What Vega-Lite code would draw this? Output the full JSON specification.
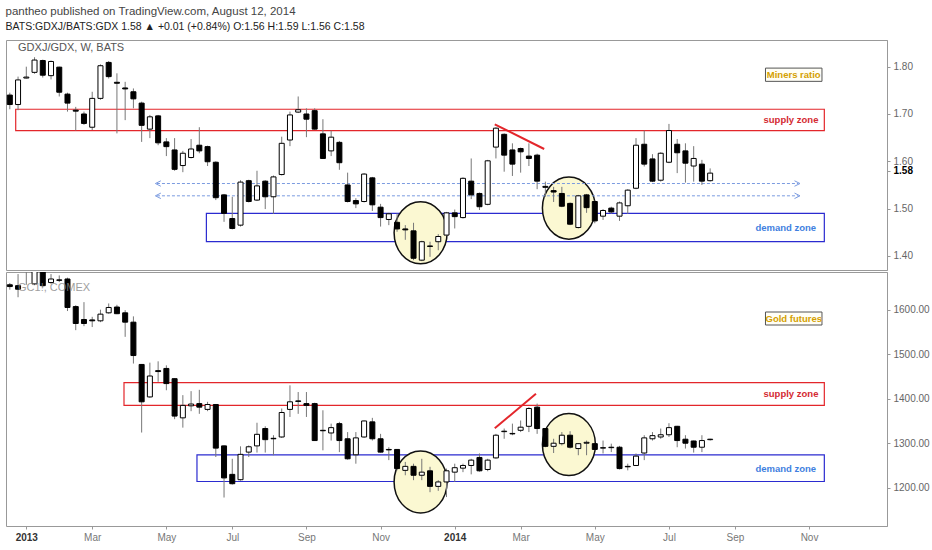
{
  "$schema": "https://vega.github.io/schema/vega-lite/v6.json",
  "background": "white",
  "padding": {"left": 5, "top": 5, "right": 0, "bottom": 0},
  "title": {
    "text": "pantheo published on TradingView.com, August 12, 2014",
    "subtitle": "BATS:GDXJ/BATS:GDX  1.58 ▲ +0.01 (+0.84%)  O:1.56  H:1.59  L:1.56  C:1.58",
    "anchor": "start",
    "font": "Liberation Sans",
    "fontSize": 11.5,
    "fontWeight": "normal",
    "color": "#444",
    "subtitleFont": "Liberation Sans",
    "subtitleFontSize": 10.5,
    "subtitleColor": "#222",
    "subtitlePadding": 5,
    "offset": 7
  },
  "datasets": {
    "ratio": [
      {"d": "2012-12-24", "o": 1.74, "h": 1.745, "l": 1.71, "c": 1.72},
      {"d": "2012-12-31", "o": 1.72, "h": 1.779, "l": 1.708, "c": 1.772},
      {"d": "2013-01-07", "o": 1.776, "h": 1.8, "l": 1.775, "c": 1.778},
      {"d": "2013-01-14", "o": 1.788, "h": 1.82, "l": 1.785, "c": 1.814},
      {"d": "2013-01-21", "o": 1.813, "h": 1.815, "l": 1.777, "c": 1.782},
      {"d": "2013-01-28", "o": 1.781, "h": 1.813, "l": 1.773, "c": 1.811},
      {"d": "2013-02-04", "o": 1.799, "h": 1.8, "l": 1.737, "c": 1.746},
      {"d": "2013-02-11", "o": 1.742, "h": 1.745, "l": 1.705, "c": 1.723},
      {"d": "2013-02-18", "o": 1.708, "h": 1.715, "l": 1.665, "c": 1.706},
      {"d": "2013-02-25", "o": 1.7, "h": 1.705, "l": 1.677, "c": 1.68},
      {"d": "2013-03-04", "o": 1.672, "h": 1.747, "l": 1.666, "c": 1.733},
      {"d": "2013-03-11", "o": 1.733, "h": 1.805, "l": 1.73, "c": 1.802},
      {"d": "2013-03-18", "o": 1.809, "h": 1.812, "l": 1.775, "c": 1.779},
      {"d": "2013-03-25", "o": 1.767, "h": 1.786, "l": 1.659, "c": 1.765},
      {"d": "2013-04-01", "o": 1.755, "h": 1.768, "l": 1.687, "c": 1.753},
      {"d": "2013-04-08", "o": 1.747, "h": 1.754, "l": 1.712, "c": 1.732},
      {"d": "2013-04-15", "o": 1.723, "h": 1.726, "l": 1.641, "c": 1.676},
      {"d": "2013-04-22", "o": 1.668, "h": 1.698, "l": 1.649, "c": 1.694},
      {"d": "2013-04-29", "o": 1.696, "h": 1.698, "l": 1.634, "c": 1.639},
      {"d": "2013-05-06", "o": 1.641, "h": 1.649, "l": 1.611, "c": 1.631},
      {"d": "2013-05-13", "o": 1.624, "h": 1.649, "l": 1.58, "c": 1.583},
      {"d": "2013-05-20", "o": 1.591, "h": 1.622, "l": 1.577, "c": 1.617},
      {"d": "2013-05-27", "o": 1.608, "h": 1.647, "l": 1.606, "c": 1.626},
      {"d": "2013-06-03", "o": 1.634, "h": 1.672, "l": 1.617, "c": 1.622},
      {"d": "2013-06-10", "o": 1.631, "h": 1.633, "l": 1.59, "c": 1.599},
      {"d": "2013-06-17", "o": 1.598, "h": 1.6, "l": 1.518, "c": 1.523},
      {"d": "2013-06-24", "o": 1.529, "h": 1.531, "l": 1.472, "c": 1.49},
      {"d": "2013-07-01", "o": 1.479, "h": 1.525, "l": 1.456, "c": 1.458},
      {"d": "2013-07-08", "o": 1.465, "h": 1.56, "l": 1.462, "c": 1.556},
      {"d": "2013-07-15", "o": 1.559, "h": 1.561, "l": 1.513, "c": 1.515},
      {"d": "2013-07-22", "o": 1.518, "h": 1.58, "l": 1.516, "c": 1.548},
      {"d": "2013-07-29", "o": 1.558, "h": 1.56, "l": 1.499, "c": 1.525},
      {"d": "2013-08-05", "o": 1.525, "h": 1.57, "l": 1.489, "c": 1.567},
      {"d": "2013-08-12", "o": 1.572, "h": 1.652, "l": 1.57, "c": 1.638},
      {"d": "2013-08-19", "o": 1.645, "h": 1.705, "l": 1.632, "c": 1.698},
      {"d": "2013-08-26", "o": 1.704, "h": 1.737, "l": 1.702, "c": 1.709},
      {"d": "2013-09-02", "o": 1.7, "h": 1.712, "l": 1.651, "c": 1.689},
      {"d": "2013-09-09", "o": 1.707, "h": 1.712, "l": 1.667, "c": 1.668},
      {"d": "2013-09-16", "o": 1.658, "h": 1.689, "l": 1.605, "c": 1.606},
      {"d": "2013-09-23", "o": 1.622, "h": 1.665, "l": 1.611, "c": 1.651},
      {"d": "2013-09-30", "o": 1.64, "h": 1.643, "l": 1.582, "c": 1.597},
      {"d": "2013-10-07", "o": 1.55, "h": 1.576, "l": 1.513, "c": 1.515},
      {"d": "2013-10-14", "o": 1.517, "h": 1.522, "l": 1.501, "c": 1.51},
      {"d": "2013-10-21", "o": 1.515, "h": 1.575, "l": 1.513, "c": 1.573},
      {"d": "2013-10-28", "o": 1.565, "h": 1.567, "l": 1.495, "c": 1.508},
      {"d": "2013-11-04", "o": 1.503, "h": 1.51, "l": 1.462, "c": 1.481},
      {"d": "2013-11-11", "o": 1.477, "h": 1.491, "l": 1.465, "c": 1.489},
      {"d": "2013-11-18", "o": 1.471, "h": 1.49, "l": 1.451, "c": 1.457},
      {"d": "2013-11-25", "o": 1.457, "h": 1.465, "l": 1.434, "c": 1.455},
      {"d": "2013-12-02", "o": 1.453, "h": 1.47, "l": 1.391, "c": 1.395},
      {"d": "2013-12-09", "o": 1.391, "h": 1.432, "l": 1.389, "c": 1.43},
      {"d": "2013-12-16", "o": 1.421, "h": 1.43, "l": 1.398, "c": 1.42},
      {"d": "2013-12-23", "o": 1.43, "h": 1.446, "l": 1.412, "c": 1.441},
      {"d": "2013-12-30", "o": 1.444, "h": 1.493, "l": 1.442, "c": 1.491},
      {"d": "2014-01-06", "o": 1.491, "h": 1.498, "l": 1.458, "c": 1.483},
      {"d": "2014-01-13", "o": 1.481, "h": 1.566, "l": 1.479, "c": 1.564},
      {"d": "2014-01-20", "o": 1.558, "h": 1.606, "l": 1.52, "c": 1.529},
      {"d": "2014-01-27", "o": 1.532, "h": 1.534, "l": 1.497, "c": 1.504},
      {"d": "2014-02-03", "o": 1.509, "h": 1.603, "l": 1.507, "c": 1.601},
      {"d": "2014-02-10", "o": 1.63, "h": 1.672, "l": 1.606, "c": 1.67},
      {"d": "2014-02-17", "o": 1.657, "h": 1.659, "l": 1.578, "c": 1.613},
      {"d": "2014-02-24", "o": 1.624, "h": 1.638, "l": 1.569, "c": 1.594},
      {"d": "2014-03-03", "o": 1.627, "h": 1.629, "l": 1.576, "c": 1.62},
      {"d": "2014-03-10", "o": 1.611, "h": 1.638, "l": 1.59, "c": 1.606},
      {"d": "2014-03-17", "o": 1.613, "h": 1.616, "l": 1.541, "c": 1.558},
      {"d": "2014-03-24", "o": 1.547, "h": 1.557, "l": 1.525, "c": 1.545},
      {"d": "2014-03-31", "o": 1.538, "h": 1.546, "l": 1.514, "c": 1.535},
      {"d": "2014-04-07", "o": 1.532, "h": 1.546, "l": 1.503, "c": 1.505},
      {"d": "2014-04-14", "o": 1.511, "h": 1.513, "l": 1.465, "c": 1.467},
      {"d": "2014-04-21", "o": 1.46, "h": 1.529, "l": 1.458, "c": 1.527},
      {"d": "2014-04-28", "o": 1.529, "h": 1.531, "l": 1.491, "c": 1.502},
      {"d": "2014-05-05", "o": 1.515, "h": 1.517, "l": 1.469, "c": 1.474},
      {"d": "2014-05-12", "o": 1.484, "h": 1.499, "l": 1.476, "c": 1.496},
      {"d": "2014-05-19", "o": 1.501, "h": 1.504, "l": 1.489, "c": 1.493},
      {"d": "2014-05-26", "o": 1.484, "h": 1.515, "l": 1.474, "c": 1.512},
      {"d": "2014-06-02", "o": 1.506, "h": 1.541, "l": 1.489, "c": 1.539},
      {"d": "2014-06-09", "o": 1.543, "h": 1.649, "l": 1.541, "c": 1.634},
      {"d": "2014-06-16", "o": 1.636, "h": 1.665, "l": 1.589, "c": 1.594},
      {"d": "2014-06-23", "o": 1.605, "h": 1.615, "l": 1.556, "c": 1.558},
      {"d": "2014-06-30", "o": 1.56, "h": 1.619, "l": 1.557, "c": 1.617},
      {"d": "2014-07-07", "o": 1.598, "h": 1.679, "l": 1.596, "c": 1.665},
      {"d": "2014-07-14", "o": 1.636, "h": 1.647, "l": 1.575, "c": 1.618},
      {"d": "2014-07-21", "o": 1.622, "h": 1.638, "l": 1.555, "c": 1.596},
      {"d": "2014-07-28", "o": 1.59, "h": 1.632, "l": 1.557, "c": 1.606},
      {"d": "2014-08-04", "o": 1.594, "h": 1.603, "l": 1.55, "c": 1.558},
      {"d": "2014-08-11", "o": 1.559, "h": 1.585, "l": 1.557, "c": 1.575}
    ],
    "gold": [
      {"d": "2012-12-24", "o": 1656, "h": 1660, "l": 1645, "c": 1652},
      {"d": "2012-12-31", "o": 1654, "h": 1680, "l": 1628, "c": 1646},
      {"d": "2013-01-07", "o": 1686, "h": 1698, "l": 1656, "c": 1692},
      {"d": "2013-01-14", "o": 1658, "h": 1695, "l": 1655, "c": 1690},
      {"d": "2013-01-21", "o": 1690, "h": 1695, "l": 1650, "c": 1654},
      {"d": "2013-01-28", "o": 1661, "h": 1680, "l": 1658, "c": 1669},
      {"d": "2013-02-04", "o": 1667, "h": 1677, "l": 1662, "c": 1666},
      {"d": "2013-02-11", "o": 1669, "h": 1672, "l": 1597, "c": 1605},
      {"d": "2013-02-18", "o": 1607, "h": 1610, "l": 1554, "c": 1569},
      {"d": "2013-02-25", "o": 1578, "h": 1617, "l": 1563, "c": 1569},
      {"d": "2013-03-04", "o": 1577, "h": 1584, "l": 1561, "c": 1575},
      {"d": "2013-03-11", "o": 1575, "h": 1600, "l": 1572, "c": 1590},
      {"d": "2013-03-18", "o": 1593, "h": 1614, "l": 1591, "c": 1605},
      {"d": "2013-03-25", "o": 1606, "h": 1611, "l": 1590, "c": 1591},
      {"d": "2013-04-01", "o": 1593, "h": 1599, "l": 1539, "c": 1572},
      {"d": "2013-04-08", "o": 1572, "h": 1585, "l": 1479, "c": 1497},
      {"d": "2013-04-15", "o": 1477, "h": 1478, "l": 1324, "c": 1393},
      {"d": "2013-04-22", "o": 1404, "h": 1481, "l": 1402, "c": 1451},
      {"d": "2013-04-29", "o": 1463, "h": 1484, "l": 1438, "c": 1461},
      {"d": "2013-05-06", "o": 1468, "h": 1475, "l": 1419, "c": 1434},
      {"d": "2013-05-13", "o": 1445, "h": 1446, "l": 1354, "c": 1361},
      {"d": "2013-05-20", "o": 1357, "h": 1408, "l": 1335, "c": 1385},
      {"d": "2013-05-27", "o": 1384, "h": 1417, "l": 1372, "c": 1388},
      {"d": "2013-06-03", "o": 1389, "h": 1420, "l": 1366, "c": 1381},
      {"d": "2013-06-10", "o": 1376, "h": 1393, "l": 1372, "c": 1387},
      {"d": "2013-06-17", "o": 1387, "h": 1388, "l": 1269, "c": 1289},
      {"d": "2013-06-24", "o": 1294, "h": 1295, "l": 1178, "c": 1222},
      {"d": "2013-07-01", "o": 1230, "h": 1265, "l": 1207, "c": 1209},
      {"d": "2013-07-08", "o": 1218, "h": 1293, "l": 1216, "c": 1275},
      {"d": "2013-07-15", "o": 1280, "h": 1295, "l": 1269, "c": 1292},
      {"d": "2013-07-22", "o": 1294, "h": 1346, "l": 1279, "c": 1320},
      {"d": "2013-07-29", "o": 1333, "h": 1338, "l": 1279, "c": 1308},
      {"d": "2013-08-05", "o": 1311, "h": 1318, "l": 1273, "c": 1310},
      {"d": "2013-08-12", "o": 1314, "h": 1378, "l": 1312, "c": 1369},
      {"d": "2013-08-19", "o": 1376, "h": 1430, "l": 1359, "c": 1393},
      {"d": "2013-08-26", "o": 1395, "h": 1415, "l": 1366, "c": 1394},
      {"d": "2013-09-02", "o": 1389, "h": 1415, "l": 1359, "c": 1385},
      {"d": "2013-09-09", "o": 1389, "h": 1391, "l": 1305, "c": 1306},
      {"d": "2013-09-16", "o": 1329, "h": 1374, "l": 1284, "c": 1328},
      {"d": "2013-09-23", "o": 1323, "h": 1344, "l": 1306, "c": 1335},
      {"d": "2013-09-30", "o": 1344, "h": 1348, "l": 1280, "c": 1306},
      {"d": "2013-10-07", "o": 1310, "h": 1325, "l": 1263, "c": 1265},
      {"d": "2013-10-14", "o": 1274, "h": 1325, "l": 1254, "c": 1312},
      {"d": "2013-10-21", "o": 1314, "h": 1351, "l": 1312, "c": 1350},
      {"d": "2013-10-28", "o": 1348, "h": 1357, "l": 1306, "c": 1310},
      {"d": "2013-11-04", "o": 1310, "h": 1321, "l": 1279, "c": 1280},
      {"d": "2013-11-11", "o": 1286, "h": 1291, "l": 1262, "c": 1285},
      {"d": "2013-11-18", "o": 1286, "h": 1287, "l": 1239, "c": 1243},
      {"d": "2013-11-25", "o": 1239, "h": 1258, "l": 1228, "c": 1248},
      {"d": "2013-12-02", "o": 1248, "h": 1254, "l": 1217, "c": 1228},
      {"d": "2013-12-09", "o": 1228, "h": 1265, "l": 1217, "c": 1235},
      {"d": "2013-12-16", "o": 1238, "h": 1247, "l": 1190, "c": 1203},
      {"d": "2013-12-23", "o": 1203, "h": 1217, "l": 1193, "c": 1213},
      {"d": "2013-12-30", "o": 1213, "h": 1243, "l": 1179, "c": 1238},
      {"d": "2014-01-06", "o": 1235, "h": 1254, "l": 1213, "c": 1245},
      {"d": "2014-01-13", "o": 1244, "h": 1254, "l": 1235, "c": 1250},
      {"d": "2014-01-20", "o": 1250, "h": 1265, "l": 1230, "c": 1262},
      {"d": "2014-01-27", "o": 1268, "h": 1277, "l": 1236, "c": 1238},
      {"d": "2014-02-03", "o": 1241, "h": 1265, "l": 1237, "c": 1262},
      {"d": "2014-02-10", "o": 1267, "h": 1321, "l": 1265, "c": 1318},
      {"d": "2014-02-17", "o": 1326, "h": 1333, "l": 1310, "c": 1327},
      {"d": "2014-02-24", "o": 1321, "h": 1344, "l": 1318, "c": 1322},
      {"d": "2014-03-03", "o": 1329, "h": 1351, "l": 1325, "c": 1336},
      {"d": "2014-03-10", "o": 1338, "h": 1381, "l": 1325, "c": 1378},
      {"d": "2014-03-17", "o": 1381, "h": 1389, "l": 1321, "c": 1333},
      {"d": "2014-03-24", "o": 1333, "h": 1334, "l": 1291, "c": 1293},
      {"d": "2014-03-31", "o": 1293, "h": 1310, "l": 1278, "c": 1300},
      {"d": "2014-04-07", "o": 1299, "h": 1325, "l": 1295, "c": 1318},
      {"d": "2014-04-14", "o": 1318, "h": 1327, "l": 1288, "c": 1291},
      {"d": "2014-04-21", "o": 1288, "h": 1300, "l": 1273, "c": 1299},
      {"d": "2014-04-28", "o": 1300, "h": 1306, "l": 1273, "c": 1302},
      {"d": "2014-05-05", "o": 1299, "h": 1300, "l": 1284, "c": 1286},
      {"d": "2014-05-12", "o": 1289, "h": 1306, "l": 1277, "c": 1290},
      {"d": "2014-05-19", "o": 1290, "h": 1299, "l": 1280, "c": 1291},
      {"d": "2014-05-26", "o": 1291, "h": 1294, "l": 1241, "c": 1243},
      {"d": "2014-06-02", "o": 1248, "h": 1254, "l": 1239, "c": 1247},
      {"d": "2014-06-09", "o": 1250, "h": 1277, "l": 1249, "c": 1271},
      {"d": "2014-06-16", "o": 1278, "h": 1318, "l": 1262, "c": 1312},
      {"d": "2014-06-23", "o": 1310, "h": 1325, "l": 1306, "c": 1317},
      {"d": "2014-06-30", "o": 1314, "h": 1333, "l": 1310, "c": 1319},
      {"d": "2014-07-07", "o": 1319, "h": 1345, "l": 1314, "c": 1335},
      {"d": "2014-07-14", "o": 1338, "h": 1339, "l": 1291, "c": 1306},
      {"d": "2014-07-21", "o": 1309, "h": 1318, "l": 1288, "c": 1300},
      {"d": "2014-07-28", "o": 1305, "h": 1306, "l": 1279, "c": 1291},
      {"d": "2014-08-04", "o": 1291, "h": 1318, "l": 1280, "c": 1306},
      {"d": "2014-08-11", "o": 1308, "h": 1310, "l": 1306, "c": 1309}
    ]
  },
  "vconcat": [
    {
      "width": 881,
      "height": 230,
      "layer": [
        {
          "data": {"values": [
            {"kind": "supply", "d": "2012-12-29", "d2": "2014-11-16", "v": 1.665, "v2": 1.71},
            {"kind": "demand", "d": "2013-06-09", "d2": "2014-11-16", "v": 1.43, "v2": 1.49}
          ]},
          "mark": {"type": "rect", "fill": "transparent", "strokeWidth": 1.2, "clip": true},
          "encoding": {
            "x": {"field": "d", "type": "temporal", "scale": {"type": "utc", "domain": [{"year": 2012, "month": 12, "date": 25, "utc": true}, {"year": 2015, "month": 1, "date": 4, "utc": true}]}, "axis": null},
            "x2": {"field": "d2"},
            "y": {"field": "v", "type": "quantitative", "scale": {"domain": [1.3702, 1.8564], "zero": false, "nice": false}, "axis": {"orient": "right", "values": [1.4, 1.5, 1.58, 1.6, 1.7, 1.8], "format": ".2f", "grid": false, "title": null, "labelOverlap": false, "labelFontWeight": {"expr": "datum.value == 1.58 ? 'bold' : 'normal'"}, "labelColor": {"expr": "datum.value == 1.58 ? '#000' : '#666'"}}},
            "y2": {"field": "v2"},
            "stroke": {"field": "kind", "type": "nominal", "scale": {"domain": ["supply", "demand"], "range": ["#e3262b", "#2b2bd0"]}, "legend": null}
          }
        },
        {
          "data": {"values": [
            {"d": "2013-12-08", "v": 1.449},
            {"d": "2014-04-13", "v": 1.501}
          ]},
          "mark": {"type": "point", "shape": "M0,-1.17A1,1.17 0 1,1 0,1.17A1,1.17 0 1,1 0,-1.17Z", "size": 2809, "filled": true, "fill": "#fbf8d2", "stroke": "#111", "strokeWidth": 1.5, "opacity": 1},
          "encoding": {
            "x": {"field": "d", "type": "temporal"},
            "y": {"field": "v", "type": "quantitative"}
          }
        },
        {
          "data": {"values": [
            {"d": "2013-04-28", "d2": "2014-10-25", "v": 1.553},
            {"d": "2013-04-28", "d2": "2014-10-25", "v": 1.527}
          ]},
          "mark": {"type": "rule", "color": "#7b9be0", "strokeDash": [3, 2], "strokeWidth": 1},
          "encoding": {
            "x": {"field": "d", "type": "temporal"},
            "x2": {"field": "d2"},
            "y": {"field": "v", "type": "quantitative"}
          }
        },
        {
          "data": {"values": [
            {"d": "2013-04-29", "v": 1.553, "end": "left"},
            {"d": "2013-04-29", "v": 1.527, "end": "left"},
            {"d": "2014-10-24", "v": 1.553, "end": "right"},
            {"d": "2014-10-24", "v": 1.527, "end": "right"}
          ]},
          "mark": {"type": "point", "filled": false, "color": "#7b9be0", "size": 30, "strokeWidth": 1, "opacity": 1},
          "encoding": {
            "x": {"field": "d", "type": "temporal"},
            "y": {"field": "v", "type": "quantitative"},
            "shape": {"field": "end", "type": "nominal", "scale": {"domain": ["left", "right"], "range": ["M1,-1L-1,0L1,1", "M-1,-1L1,0L-1,1"]}, "legend": null}
          }
        },
        {
          "data": {"name": "ratio"},
          "mark": {"type": "rule", "color": "#777", "strokeWidth": 1, "clip": true},
          "encoding": {
            "x": {"field": "d", "type": "temporal"},
            "y": {"field": "l", "type": "quantitative"},
            "y2": {"field": "h"}
          }
        },
        {
          "data": {"name": "ratio"},
          "mark": {"type": "bar", "width": 5, "stroke": "#000", "strokeWidth": 1, "clip": true},
          "encoding": {
            "x": {"field": "d", "type": "temporal"},
            "y": {"field": "o", "type": "quantitative"},
            "y2": {"field": "c"},
            "fill": {"condition": {"test": "datum.c >= datum.o", "value": "#ffffff"}, "value": "#000000"}
          }
        },
        {
          "data": {"values": [
            {"d": "2014-02-09", "v": 1.678},
            {"d": "2014-03-23", "v": 1.626}
          ]},
          "mark": {"type": "line", "color": "#e3262b", "strokeWidth": 2},
          "encoding": {
            "x": {"field": "d", "type": "temporal"},
            "y": {"field": "v", "type": "quantitative"}
          }
        },
        {
          "data": {"values": [
            {"kind": "supply", "d": "2014-11-11", "v": 1.687, "label": "supply zone"},
            {"kind": "demand", "d": "2014-11-09", "v": 1.458, "label": "demand zone"}
          ]},
          "mark": {"type": "text", "align": "right", "baseline": "middle", "font": "Liberation Sans", "fontSize": 9.5, "fontWeight": "bold"},
          "encoding": {
            "x": {"field": "d", "type": "temporal"},
            "y": {"field": "v", "type": "quantitative"},
            "text": {"field": "label"},
            "color": {"field": "kind", "type": "nominal", "scale": {"domain": ["supply", "demand"], "range": ["#d42a32", "#3f7fe0"]}, "legend": null}
          }
        },
        {
          "data": {"values": [{"d": "2014-09-27", "d2": "2014-11-14", "v": 1.769, "v2": 1.797}]},
          "mark": {"type": "rect", "fill": "#fffef6", "stroke": "#555", "strokeWidth": 1},
          "encoding": {
            "x": {"field": "d", "type": "temporal"},
            "x2": {"field": "d2"},
            "y": {"field": "v", "type": "quantitative"},
            "y2": {"field": "v2"}
          }
        },
        {
          "data": {"values": [{"d": "2014-10-21", "v": 1.783, "label": "Miners ratio"}]},
          "mark": {"type": "text", "align": "center", "baseline": "middle", "font": "Liberation Sans", "fontSize": 9.5, "fontWeight": "bold", "color": "#d4a000"},
          "encoding": {
            "x": {"field": "d", "type": "temporal"},
            "y": {"field": "v", "type": "quantitative"},
            "text": {"field": "label"}
          }
        },
        {
          "data": {"values": [{"d": "2012-12-31", "v": 1.8395, "label": "GDXJ/GDX, W, BATS"}]},
          "mark": {"type": "text", "align": "left", "baseline": "middle", "font": "Liberation Sans", "fontSize": 11, "color": "#555"},
          "encoding": {
            "x": {"field": "d", "type": "temporal"},
            "y": {"field": "v", "type": "quantitative"},
            "text": {"field": "label"}
          }
        }
      ]
    },
    {
      "width": 881,
      "height": 254,
      "layer": [
        {
          "data": {"values": [
            {"kind": "supply", "d": "2013-03-31", "d2": "2014-11-16", "v": 1385, "v2": 1436},
            {"kind": "demand", "d": "2013-06-01", "d2": "2014-11-16", "v": 1214, "v2": 1274}
          ]},
          "mark": {"type": "rect", "fill": "transparent", "strokeWidth": 1.2, "clip": true},
          "encoding": {
            "x": {"field": "d", "type": "temporal", "scale": {"type": "utc", "domain": [{"year": 2012, "month": 12, "date": 25, "utc": true}, {"year": 2015, "month": 1, "date": 4, "utc": true}]},
              "axis": {
                "title": null, "grid": false, "domain": false,
                "values": [
                  {"year": 2013, "month": 1, "date": 7, "utc": true},
                  {"year": 2013, "month": 3, "date": 4, "utc": true},
                  {"year": 2013, "month": 5, "date": 6, "utc": true},
                  {"year": 2013, "month": 7, "date": 1, "utc": true},
                  {"year": 2013, "month": 9, "date": 2, "utc": true},
                  {"year": 2013, "month": 11, "date": 4, "utc": true},
                  {"year": 2014, "month": 1, "date": 6, "utc": true},
                  {"year": 2014, "month": 3, "date": 3, "utc": true},
                  {"year": 2014, "month": 5, "date": 5, "utc": true},
                  {"year": 2014, "month": 7, "date": 7, "utc": true},
                  {"year": 2014, "month": 9, "date": 1, "utc": true},
                  {"year": 2014, "month": 11, "date": 3, "utc": true}
                ],
                "labelExpr": "utcmonth(datum.value) == 0 ? utcFormat(datum.value, '%Y') : utcFormat(datum.value, '%b')",
                "labelFontWeight": {"expr": "utcmonth(datum.value) == 0 ? 'bold' : 'normal'"},
                "labelColor": {"expr": "utcmonth(datum.value) == 0 ? '#333' : '#777'"},
                "labelFlush": false
              }},
            "x2": {"field": "d2"},
            "y": {"field": "v", "type": "quantitative", "scale": {"domain": [1114, 1684.7], "zero": false, "nice": false}, "axis": {"orient": "right", "values": [1200, 1300, 1400, 1500, 1600], "format": ".2f", "grid": false, "title": null, "labelColor": "#666"}},
            "y2": {"field": "v2"},
            "stroke": {"field": "kind", "type": "nominal", "scale": {"domain": ["supply", "demand"], "range": ["#e3262b", "#2b2bd0"]}, "legend": null}
          }
        },
        {
          "data": {"values": [
            {"d": "2013-12-08", "v": 1213},
            {"d": "2014-04-13", "v": 1297}
          ]},
          "mark": {"type": "point", "shape": "M0,-1.17A1,1.17 0 1,1 0,1.17A1,1.17 0 1,1 0,-1.17Z", "size": 2809, "filled": true, "fill": "#fbf8d2", "stroke": "#111", "strokeWidth": 1.5, "opacity": 1},
          "encoding": {
            "x": {"field": "d", "type": "temporal"},
            "y": {"field": "v", "type": "quantitative"}
          }
        },
        {
          "data": {"name": "gold"},
          "mark": {"type": "rule", "color": "#777", "strokeWidth": 1, "clip": true},
          "encoding": {
            "x": {"field": "d", "type": "temporal"},
            "y": {"field": "l", "type": "quantitative"},
            "y2": {"field": "h"}
          }
        },
        {
          "data": {"name": "gold"},
          "mark": {"type": "bar", "width": 5, "stroke": "#000", "strokeWidth": 1, "clip": true},
          "encoding": {
            "x": {"field": "d", "type": "temporal"},
            "y": {"field": "o", "type": "quantitative"},
            "y2": {"field": "c"},
            "fill": {"condition": {"test": "datum.c >= datum.o", "value": "#ffffff"}, "value": "#000000"}
          }
        },
        {
          "data": {"values": [
            {"d": "2014-02-09", "v": 1333.5},
            {"d": "2014-03-16", "v": 1411}
          ]},
          "mark": {"type": "line", "color": "#e3262b", "strokeWidth": 2},
          "encoding": {
            "x": {"field": "d", "type": "temporal"},
            "y": {"field": "v", "type": "quantitative"}
          }
        },
        {
          "data": {"values": [
            {"kind": "supply", "d": "2014-11-11", "v": 1411, "label": "supply zone"},
            {"kind": "demand", "d": "2014-11-09", "v": 1241, "label": "demand zone"}
          ]},
          "mark": {"type": "text", "align": "right", "baseline": "middle", "font": "Liberation Sans", "fontSize": 9.5, "fontWeight": "bold"},
          "encoding": {
            "x": {"field": "d", "type": "temporal"},
            "y": {"field": "v", "type": "quantitative"},
            "text": {"field": "label"},
            "color": {"field": "kind", "type": "nominal", "scale": {"domain": ["supply", "demand"], "range": ["#e0505c", "#3f7fe0"]}, "legend": null}
          }
        },
        {
          "data": {"values": [{"d": "2014-09-27", "d2": "2014-11-14", "v": 1565.6, "v2": 1594.8}]},
          "mark": {"type": "rect", "fill": "#fffef6", "stroke": "#555", "strokeWidth": 1},
          "encoding": {
            "x": {"field": "d", "type": "temporal"},
            "x2": {"field": "d2"},
            "y": {"field": "v", "type": "quantitative"},
            "y2": {"field": "v2"}
          }
        },
        {
          "data": {"values": [{"d": "2014-10-21", "v": 1580, "label": "Gold futures"}]},
          "mark": {"type": "text", "align": "center", "baseline": "middle", "font": "Liberation Sans", "fontSize": 9.5, "fontWeight": "bold", "color": "#d4a000"},
          "encoding": {
            "x": {"field": "d", "type": "temporal"},
            "y": {"field": "v", "type": "quantitative"},
            "text": {"field": "label"}
          }
        },
        {
          "data": {"values": [{"d": "2012-12-31", "v": 1648.8, "label": "GC1!, COMEX"}]},
          "mark": {"type": "text", "align": "left", "baseline": "middle", "font": "Liberation Sans", "fontSize": 11, "color": "#888", "opacity": 0.8},
          "encoding": {
            "x": {"field": "d", "type": "temporal"},
            "y": {"field": "v", "type": "quantitative"},
            "text": {"field": "label"}
          }
        }
      ]
    }
  ],
  "spacing": 0,
  "config": {
    "view": {"stroke": "#999"},
    "axis": {"labelFont": "Liberation Sans", "labelFontSize": 10, "tickSize": 3, "labelPadding": 3, "domainColor": "#999", "tickColor": "#999"}
  }
}
